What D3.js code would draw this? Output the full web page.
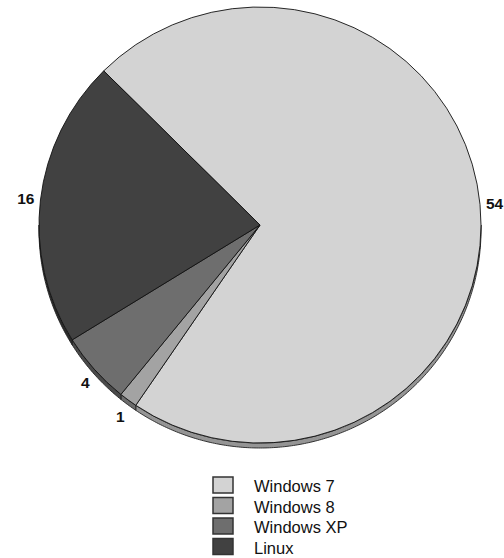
<!DOCTYPE html>
<html>
<head>
<meta charset="utf-8">
<script src="https://cdn.jsdelivr.net/npm/d3@7"></script>
<style>
html,body{margin:0;padding:0;background:#fff;}
svg{display:block;}
</style>
</head>
<body>
<svg id="chart" width="504" height="558"></svg>
<script>
const categories = ["Windows 7", "Windows 8", "Windows XP", "Linux"];
const values = [54, 1, 4, 16];
const topColors = ["#d3d3d3", "#a3a3a3", "#6e6e6e", "#414141"];
const sideColors = ["#959595", "#6c6c6c", "#4a4a4a", "#2b2b2b"];

const W = 504, H = 558;
const cx = 260, cy = 225, rx = 221, ry = 218, depth = 5;
const svg = d3.select("#chart");

const pie = d3.pie().sort(null).value(d => d.v)
  .startAngle(-Math.PI / 4).endAngle(2 * Math.PI - Math.PI / 4);
const data = categories.map((c, i) => ({c, v: values[i], i}));
const arcs = pie(data);

const ex = a => cx + rx * Math.sin(a);
const ey = (a, off) => cy - ry * Math.cos(a) + off;

// side walls (front half only)
const sideG = svg.append("g");
arcs.forEach(d => {
  let a0 = d.startAngle, a1 = d.endAngle;
  const segs = [];
  for (let k = -1; k <= 1; k++) {
    const lo = Math.PI / 2 + 2 * Math.PI * k, hi = 3 * Math.PI / 2 + 2 * Math.PI * k;
    const s = Math.max(a0, lo), e = Math.min(a1, hi);
    if (e > s) segs.push([s, e]);
  }
  segs.forEach(([s, e]) => {
    const n = Math.max(2, Math.ceil((e - s) / 0.01));
    const p = d3.path();
    for (let j = 0; j <= n; j++) {
      const a = s + (e - s) * j / n;
      if (j === 0) p.moveTo(ex(a), ey(a, 0)); else p.lineTo(ex(a), ey(a, 0));
    }
    for (let j = n; j >= 0; j--) {
      const a = s + (e - s) * j / n;
      p.lineTo(ex(a), ey(a, depth));
    }
    p.closePath();
    sideG.append("path").attr("d", p.toString())
      .attr("fill", sideColors[d.index])
      .attr("stroke", "#222").attr("stroke-width", 0.9)
      .attr("stroke-linejoin", "round");
  });
});

// top faces
const arcGen = d3.arc().innerRadius(0).outerRadius(rx);
svg.append("g")
  .attr("transform", `translate(${cx},${cy}) scale(1,${ry / rx})`)
  .selectAll("path").data(arcs).join("path")
  .attr("d", arcGen)
  .attr("fill", d => topColors[d.index])
  .attr("stroke", "#111").attr("stroke-width", 0.9)
  .attr("vector-effect", "non-scaling-stroke")
  .attr("stroke-linejoin", "round");

// value labels
svg.append("g").selectAll("text").data(arcs).join("text")
  .each(function(d) {
    const a = (d.startAngle + d.endAngle) / 2;
    const lr = 6;
    const x = cx + (rx + lr) * Math.sin(a);
    const y = cy - (ry + lr) * Math.cos(a) - Math.cos(a) * 13 + 1;
    d3.select(this).attr("x", x).attr("y", y)
      .attr("text-anchor", Math.sin(a) < 0 ? "end" : "start");
  })
  .attr("dominant-baseline", "central")
  .attr("font-family", "Liberation Sans, Arial, sans-serif")
  .attr("font-weight", "bold")
  .attr("font-size", 15.5)
  .attr("fill", "#111")
  .text(d => d.data.v);

// legend
const legY = d3.scaleBand().domain(categories).range([476, 558]).paddingInner(0);
const lg = svg.append("g").selectAll("g").data(categories).join("g");
lg.append("rect")
  .attr("x", 213).attr("y", d => legY(d) + 1)
  .attr("width", 20).attr("height", 16)
  .attr("fill", (d, i) => topColors[i])
  .attr("stroke", "#333").attr("stroke-width", 1.5);
lg.append("text")
  .attr("x", 254).attr("y", d => legY(d) + 16)
  .attr("font-family", "Liberation Sans, Arial, sans-serif")
  .attr("font-size", 16.5)
  .attr("fill", "#111")
  .text(d => d);
</script>
</body>
</html>
